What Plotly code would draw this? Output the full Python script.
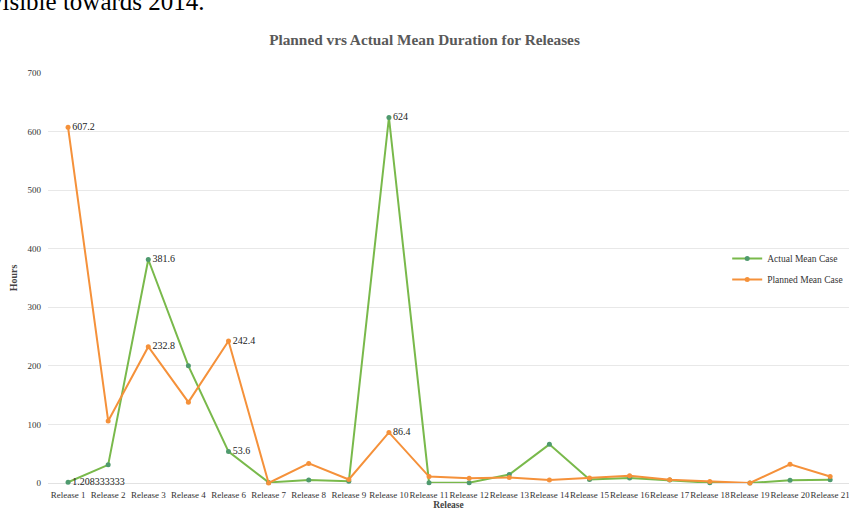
import plotly.graph_objects as go

# Release categories (Release 5 has no entry)
releases = ["Release 1", "Release 2", "Release 3", "Release 4", "Release 6",
            "Release 7", "Release 8", "Release 9", "Release 10", "Release 11",
            "Release 12", "Release 13", "Release 14", "Release 15", "Release 16",
            "Release 17", "Release 18", "Release 19", "Release 20", "Release 21"]

# Mean durations in hours
actual_mean = [1.208333333, 31, 381.6, 200, 53.6, 1, 5, 3, 624, 0.5,
               0.5, 14.5, 66, 6, 8.5, 5, 0.5, 0, 4.5, 5.5]
planned_mean = [607.2, 106, 232.8, 138, 242.4, 0, 33.5, 6, 86.4, 11,
                8, 9.5, 5, 8.5, 12.5, 5.5, 2.5, 0, 32, 11]

# Points that carry a value label
actual_labelled = [0, 2, 4, 8]
planned_labelled = [0, 2, 4, 8]

y_ticks = [0, 100, 200, 300, 400, 500, 600, 700]

SERIF = "Liberation Serif"
GREEN_LINE = "#79B94B"
GREEN_MARK = "#4F9A6E"
ORANGE = "#F5913A"


def labels(values, idx):
    return [f"{v:.10g}" if i in idx else "" for i, v in enumerate(values)]


fig = go.Figure()

fig.add_trace(go.Scatter(
    x=releases, y=actual_mean, name="Actual Mean Case",
    legendgroup="actual",
    mode="lines+markers+text",
    line=dict(color=GREEN_LINE, width=2),
    marker=dict(color=GREEN_MARK, size=5),
    text=labels(actual_mean, actual_labelled),
    textposition="middle right",
    textfont=dict(family=SERIF, size=10, color="#222222"),
    cliponaxis=False,
))

fig.add_trace(go.Scatter(
    x=releases, y=planned_mean, name="Planned Mean Case",
    legendgroup="planned",
    mode="lines+markers+text",
    line=dict(color=ORANGE, width=2),
    marker=dict(color=ORANGE, size=5),
    text=labels(planned_mean, planned_labelled),
    textposition="middle right",
    textfont=dict(family=SERIF, size=10, color="#222222"),
    cliponaxis=False,
))

# Fragment of the surrounding document text above the chart
fig.add_annotation(
    text="visible towards 2014.", xref="paper", yref="paper",
    x=0, y=1, xanchor="left", yanchor="middle",
    xshift=-60, yshift=72, showarrow=False,
    font=dict(family=SERIF, size=25, color="#000000"),
)

fig.update_layout(
    width=849, height=510,
    margin=dict(l=48, r=0, t=73, b=27),
    paper_bgcolor="white", plot_bgcolor="white",
    title=dict(
        text="<b>Planned vrs Actual Mean Duration for Releases</b>",
        x=0.5, xref="container", xanchor="center",
        y=1 - 40 / 510, yanchor="middle",
        font=dict(family=SERIF, size=15.3, color="#595959"),
    ),
    font=dict(family=SERIF, size=9, color="#222222"),
    showlegend=True,
    legend=dict(
        x=0.999, y=0.583, xanchor="right", yanchor="top",
        bgcolor="rgba(0,0,0,0)", itemwidth=30,
        font=dict(family=SERIF, size=9.5, color="#333333"),
        tracegroupgap=2,
    ),
    xaxis=dict(
        type="category", range=[-0.5, 19.47],
        showgrid=False, showline=False, zeroline=False,
        ticks="outside", ticklen=3, tickcolor="rgba(0,0,0,0)", tickangle=0,
        tickfont=dict(family=SERIF, size=9, color="#333333"),
        title=dict(text="<b>Release</b>", standoff=0,
                   font=dict(family=SERIF, size=9.5, color="#444444")),
    ),
    yaxis=dict(
        range=[0, 700], tickvals=y_ticks,
        showgrid=True, gridcolor="#E8E8E8", gridwidth=1.2,
        zeroline=True, zerolinecolor="#E2E2E2", zerolinewidth=1.2,
        showline=False, ticks="", ticklabelstandoff=6,
        tickfont=dict(family=SERIF, size=9, color="#333333"),
        title=dict(text="<b>Hours</b>", standoff=8,
                   font=dict(family=SERIF, size=10, color="#444444")),
    ),
)

fig.write_html("out.html")
